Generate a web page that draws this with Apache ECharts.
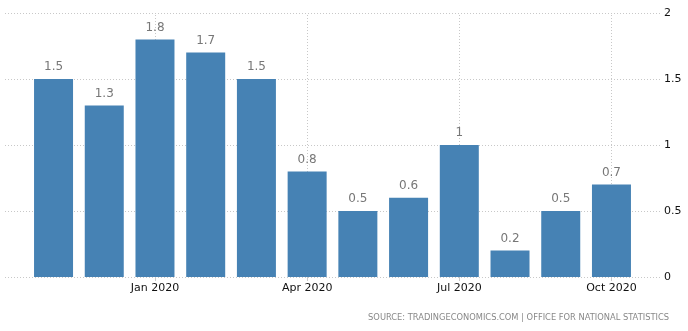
<!DOCTYPE html>
<html>
<head>
<meta charset="utf-8">
<style>
  html, body { margin: 0; padding: 0; background: #fff; }
  #chart { width: 688px; height: 331px; }
</style>
<script src="https://cdn.jsdelivr.net/npm/echarts@6/dist/echarts.min.js"></script>
</head>
<body>
<div id="chart"></div>
<script>
// Monthly percentage change, Nov 2019 – Oct 2020
const months = ['Nov 2019', 'Dec 2019', 'Jan 2020', 'Feb 2020', 'Mar 2020', 'Apr 2020',
                'May 2020', 'Jun 2020', 'Jul 2020', 'Aug 2020', 'Sep 2020', 'Oct 2020'];
const values = [1.5, 1.3, 1.8, 1.7, 1.5, 0.8, 0.5, 0.6, 1, 0.2, 0.5, 0.7];
// Quarter starts that carry a label and a vertical grid line
const labelledMonths = [2, 5, 8, 11];
const yTicks = [0, 0.5, 1, 1.5, 2];
const sourceText = 'SOURCE: TRADINGECONOMICS.COM | OFFICE FOR NATIONAL STATISTICS';

const barData = values.map((v, i) => [i, v]);
const pad = 0.957;
const gridStyle = { color: '#c8c8c8', type: [1, 2], width: 1 };

const chart = echarts.init(document.getElementById('chart'));
chart.setOption({
  animation: false,
  grid: { left: 5, right: 28, top: 13, bottom: 54, containLabel: false },
  xAxis: {
    type: 'value',
    min: -pad,
    max: months.length - 1 + pad,
    axisLine: { show: false },
    axisTick: {
      show: true,
      customValues: labelledMonths,
      length: 4,
      lineStyle: { color: '#ccc' }
    },
    axisLabel: {
      customValues: labelledMonths,
      formatter: v => months[Math.round(v)] || '',
      color: '#111',
      fontFamily: 'DejaVu Sans',
      fontSize: 11,
      margin: 6
    },
    splitLine: { show: false }
  },
  yAxis: {
    type: 'value',
    position: 'right',
    min: yTicks[0],
    max: yTicks[yTicks.length - 1],
    interval: 0.5,
    axisLine: { show: false },
    axisTick: { show: false },
    axisLabel: {
      color: '#111',
      fontFamily: 'DejaVu Sans',
      fontSize: 11,
      margin: 4,
      formatter: v => String(v)
    },
    splitLine: { show: true, lineStyle: gridStyle }
  },
  series: [{
    // vertical quarter grid lines, kept behind the bars
    type: 'line',
    data: [],
    z: 0,
    markLine: {
      silent: true,
      z: 0,
      symbol: 'none',
      label: { show: false },
      lineStyle: gridStyle,
      data: labelledMonths.map(i => ({ xAxis: i }))
    }
  }, {
    type: 'bar',
    data: barData,
    barWidth: 39,
    itemStyle: { color: '#4682b4' },
    label: {
      show: true,
      position: 'top',
      distance: 6,
      color: '#777',
      fontFamily: 'DejaVu Sans',
      fontSize: 12,
      formatter: p => String(p.value[1])
    },
    z: 3
  }],
  graphic: [{
    type: 'text',
    right: 19,
    top: 314,
    style: {
      text: sourceText,
      fill: '#888',
      font: '8.3px "DejaVu Sans"'
    }
  }]
});
</script>
</body>
</html>
